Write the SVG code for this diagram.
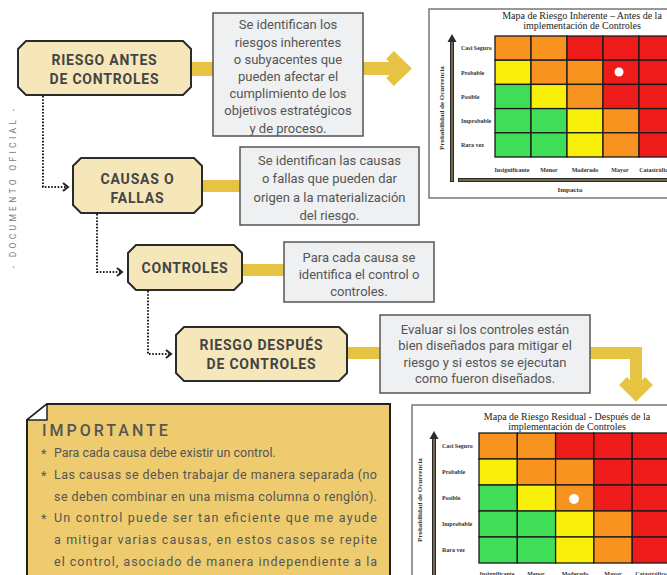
<svg xmlns="http://www.w3.org/2000/svg" width="667" height="575" viewBox="0 0 667 575">
<style>
.node{fill:#f5e7ba;stroke:#2b2b2b;stroke-width:2}
.nt{font-family:Roboto,"Liberation Sans",sans-serif;font-weight:700;font-size:14px;fill:#444;letter-spacing:0.8px;text-anchor:middle}
.box{fill:#eef0f2;stroke:#555;stroke-width:1.5}
.bt{font-family:Roboto,"Liberation Sans",sans-serif;font-size:13px;fill:#555;text-anchor:middle}
.bar{fill:#e6c343}
.ybar{fill:none;stroke:#e6c343;stroke-linecap:butt}
.dot{fill:none;stroke:#222;stroke-width:2;stroke-dasharray:1.6 1.6}
.chev{fill:none;stroke:#222;stroke-width:2}
.frame{fill:#fff;stroke:#777;stroke-width:1.5}
.mt{font-family:"Liberation Serif",serif;font-size:10px;fill:#222;text-anchor:middle}
.lb{font-family:"Liberation Serif",serif;font-size:6px;font-weight:700;fill:#333}
.lbc{font-family:"Liberation Serif",serif;font-size:6px;font-weight:700;fill:#333;text-anchor:middle}
.ax{font-family:"Liberation Serif",serif;font-size:7px;font-weight:700;fill:#333;text-anchor:middle}
.O{fill:#f7931e}.R{fill:#ee1b1b}.Y{fill:#f8f00a}.G{fill:#3fdd58}
.grid rect{stroke:#1a1a1a;stroke-width:1.3}
.axo{stroke:#2a2a2a;stroke-width:4;fill:none}
.axi{stroke:#8b7a55;stroke-width:1.6;fill:none}
.imp{font-family:Roboto,"Liberation Sans",sans-serif;font-size:12.5px;fill:#555}
</style>

<!-- side text -->
<text transform="translate(16,187) rotate(-90)" font-family="Roboto,'Liberation Sans',sans-serif" font-size="8.5" fill="#7a7a7a" text-anchor="middle" letter-spacing="3.3">- DOCUMENTO OFICIAL -</text>

<!-- connectors -->
<g id="connectors">
  <rect class="bar" x="191" y="62" width="22" height="14"/>
  <rect class="bar" x="202" y="180" width="38" height="12"/>
  <rect class="bar" x="242" y="264" width="42" height="12"/>
  <rect class="bar" x="347" y="347" width="33" height="12"/>
  <!-- big arrow right -->
  <rect class="bar" x="363" y="62" width="36" height="13"/>
  <polyline class="ybar" points="390,55 404,68.5 390,82" stroke-width="11" stroke-linejoin="miter"/>
  <!-- big arrow down -->
  <path class="ybar" d="M590,353 H636 V388" stroke-width="12"/>
  <polyline class="ybar" points="623,381 636,394 649,381" stroke-width="11"/>
  <!-- dotted connectors -->
  <path class="dot" d="M43,96 V187 H67"/>
  <polyline class="chev" points="63,183 68,187 63,191"/>
  <path class="dot" d="M97,214 V272 H121"/>
  <polyline class="chev" points="117,268 122,272 117,276"/>
  <path class="dot" d="M148,291 V354 H170"/>
  <polyline class="chev" points="166,350 171,354 166,358"/>
</g>

<!-- nodes -->
<g id="n1">
  <path class="node" d="M26,41 H183 L191,49 V87 L183,95 H26 L18,87 V49 Z"/>
  <text class="nt" x="104.5" y="65">RIESGO ANTES</text>
  <text class="nt" x="104.5" y="84">DE CONTROLES</text>
</g>
<g id="b1">
  <rect class="box" x="213" y="13" width="150" height="123"/>
  <text class="bt" x="288" y="29">Se identifican los</text>
  <text class="bt" x="288" y="46.5">riesgos inherentes</text>
  <text class="bt" x="288" y="63.5">o subyacentes que</text>
  <text class="bt" x="288" y="81">pueden afectar el</text>
  <text class="bt" x="288" y="98">cumplimiento de los</text>
  <text class="bt" x="288" y="115">objetivos estratégicos</text>
  <text class="bt" x="288" y="132.5">y de proceso.</text>
</g>

<g id="n2">
  <path class="node" d="M81,158 H194 L202,166 V205 L194,213 H81 L73,205 V166 Z"/>
  <text class="nt" x="137.5" y="184">CAUSAS O</text>
  <text class="nt" x="137.5" y="203">FALLAS</text>
</g>
<g id="b2">
  <rect class="box" x="240" y="147" width="179" height="78"/>
  <text class="bt" x="329.5" y="164.5">Se identifican las causas</text>
  <text class="bt" x="329.5" y="183">o fallas que pueden dar</text>
  <text class="bt" x="329.5" y="202">origen a la materialización</text>
  <text class="bt" x="329.5" y="220">del riesgo.</text>
</g>

<g id="n3">
  <path class="node" d="M136,245 H234 L242,253 V282 L234,290 H136 L128,282 V253 Z"/>
  <text class="nt" x="185" y="273">CONTROLES</text>
</g>
<g id="b3">
  <rect class="box" x="284" y="242" width="150" height="60"/>
  <text class="bt" x="359" y="262">Para cada causa se</text>
  <text class="bt" x="359" y="279">identifica el control o</text>
  <text class="bt" x="359" y="296">controles.</text>
</g>

<g id="n4">
  <path class="node" d="M184,327 H339 L347,335 V373 L339,381 H184 L176,373 V335 Z"/>
  <text class="nt" x="261.5" y="350">RIESGO DESPUÉS</text>
  <text class="nt" x="261.5" y="369">DE CONTROLES</text>
</g>
<g id="b4">
  <rect class="box" x="380" y="315" width="210" height="78"/>
  <text class="bt" x="485" y="333.5">Evaluar si los controles están</text>
  <text class="bt" x="485" y="350">bien diseñados para mitigar el</text>
  <text class="bt" x="485" y="366.5">riesgo y si estos se ejecutan</text>
  <text class="bt" x="485" y="383">como fueron diseñados.</text>
</g>

<!-- map 1 -->
<g id="map1">
  <rect class="frame" x="429" y="9" width="260" height="189"/>
  <text class="mt" x="582" y="18.5">Mapa de Riesgo Inherente – Antes de la</text>
  <text class="mt" x="582" y="28.5">implementación de Controles</text>
  <g class="grid">
    <rect class="O" x="495" y="36" width="36" height="24.2"/><rect class="O" x="531" y="36" width="36" height="24.2"/><rect class="R" x="567" y="36" width="36" height="24.2"/><rect class="R" x="603" y="36" width="36" height="24.2"/><rect class="R" x="639" y="36" width="36" height="24.2"/>
    <rect class="Y" x="495" y="60.2" width="36" height="24.2"/><rect class="O" x="531" y="60.2" width="36" height="24.2"/><rect class="O" x="567" y="60.2" width="36" height="24.2"/><rect class="R" x="603" y="60.2" width="36" height="24.2"/><rect class="R" x="639" y="60.2" width="36" height="24.2"/>
    <rect class="G" x="495" y="84.4" width="36" height="24.2"/><rect class="Y" x="531" y="84.4" width="36" height="24.2"/><rect class="O" x="567" y="84.4" width="36" height="24.2"/><rect class="R" x="603" y="84.4" width="36" height="24.2"/><rect class="R" x="639" y="84.4" width="36" height="24.2"/>
    <rect class="G" x="495" y="108.6" width="36" height="24.2"/><rect class="G" x="531" y="108.6" width="36" height="24.2"/><rect class="Y" x="567" y="108.6" width="36" height="24.2"/><rect class="O" x="603" y="108.6" width="36" height="24.2"/><rect class="R" x="639" y="108.6" width="36" height="24.2"/>
    <rect class="G" x="495" y="132.8" width="36" height="24.2"/><rect class="G" x="531" y="132.8" width="36" height="24.2"/><rect class="Y" x="567" y="132.8" width="36" height="24.2"/><rect class="O" x="603" y="132.8" width="36" height="24.2"/><rect class="R" x="639" y="132.8" width="36" height="24.2"/>
  </g>
  <circle cx="619" cy="72" r="4.5" fill="#fff"/>
  <text class="lb" x="461" y="50">Casi Seguro</text>
  <text class="lb" x="461" y="74.5">Probable</text>
  <text class="lb" x="461" y="98.5">Posible</text>
  <text class="lb" x="461" y="123">Improbable</text>
  <text class="lb" x="461" y="147">Rara vez</text>
  <text class="lbc" x="512" y="172">Insignificante</text>
  <text class="lbc" x="549" y="172">Menor</text>
  <text class="lbc" x="585" y="172">Moderado</text>
  <text class="lbc" x="620" y="172">Mayor</text>
  <text class="lbc" x="655" y="172">Catastrófico</text>
  <line class="axo" x1="452" y1="40" x2="452" y2="182"/>
  <line class="axi" x1="452" y1="40" x2="452" y2="181"/>
  <polygon points="447.5,42 456.5,42 452,34" fill="#2a2a2a"/>
  <line class="axo" x1="458" y1="180" x2="680" y2="180"/>
  <line class="axi" x1="459" y1="180" x2="680" y2="180"/>
  <text class="ax" transform="translate(444,108) rotate(-90)">Probabilidad de Ocurrencia</text>
  <text class="ax" x="570" y="192">Impacto</text>
</g>

<!-- map 2 -->
<g id="map2">
  <rect class="frame" x="412" y="405" width="280" height="190"/>
  <text class="mt" x="567" y="419.5" font-size="10.5">Mapa de Riesgo Residual - Después de la</text>
  <text class="mt" x="567" y="429.5" font-size="10.5">implementación de Controles</text>
  <g class="grid">
    <rect class="O" x="479" y="433" width="38.3" height="26"/><rect class="O" x="517.3" y="433" width="38.3" height="26"/><rect class="R" x="555.6" y="433" width="38.3" height="26"/><rect class="R" x="593.9" y="433" width="38.3" height="26"/><rect class="R" x="632.2" y="433" width="38.3" height="26"/>
    <rect class="Y" x="479" y="459" width="38.3" height="26"/><rect class="O" x="517.3" y="459" width="38.3" height="26"/><rect class="O" x="555.6" y="459" width="38.3" height="26"/><rect class="R" x="593.9" y="459" width="38.3" height="26"/><rect class="R" x="632.2" y="459" width="38.3" height="26"/>
    <rect class="G" x="479" y="485" width="38.3" height="26"/><rect class="Y" x="517.3" y="485" width="38.3" height="26"/><rect class="O" x="555.6" y="485" width="38.3" height="26"/><rect class="R" x="593.9" y="485" width="38.3" height="26"/><rect class="R" x="632.2" y="485" width="38.3" height="26"/>
    <rect class="G" x="479" y="511" width="38.3" height="26"/><rect class="G" x="517.3" y="511" width="38.3" height="26"/><rect class="Y" x="555.6" y="511" width="38.3" height="26"/><rect class="O" x="593.9" y="511" width="38.3" height="26"/><rect class="R" x="632.2" y="511" width="38.3" height="26"/>
    <rect class="G" x="479" y="537" width="38.3" height="26"/><rect class="G" x="517.3" y="537" width="38.3" height="26"/><rect class="Y" x="555.6" y="537" width="38.3" height="26"/><rect class="O" x="593.9" y="537" width="38.3" height="26"/><rect class="R" x="632.2" y="537" width="38.3" height="26"/>
  </g>
  <circle cx="574" cy="499" r="5" fill="#fff"/>
  <text class="lb" x="442" y="448">Casi Seguro</text>
  <text class="lb" x="442" y="474">Probable</text>
  <text class="lb" x="442" y="500">Posible</text>
  <text class="lb" x="442" y="526">Improbable</text>
  <text class="lb" x="442" y="552">Rara vez</text>
  <text class="lbc" x="497" y="576">Insignificante</text>
  <text class="lbc" x="536" y="576">Menor</text>
  <text class="lbc" x="575" y="576">Moderado</text>
  <text class="lbc" x="613" y="576">Mayor</text>
  <text class="lbc" x="651" y="576">Catastrófico</text>
  <line class="axo" x1="434" y1="437" x2="434" y2="580"/>
  <line class="axi" x1="434" y1="437" x2="434" y2="580"/>
  <polygon points="429.5,439 438.5,439 434,431" fill="#2a2a2a"/>
  <text class="ax" transform="translate(422,500) rotate(-90)">Probabilidad de Ocurrencia</text>
</g>

<!-- importante -->
<g id="importante">
  <path d="M47,404 H390 V580 H27 V420 Z" fill="#eecb6e" stroke="#222" stroke-width="2"/>
  <polygon points="27,420 47,420 47,404" fill="#fff" stroke="#222" stroke-width="1.5" stroke-linejoin="round"/>
  <text x="42" y="436" font-family="Roboto,'Liberation Sans',sans-serif" font-size="16" font-weight="500" fill="#555" letter-spacing="3">IMPORTANTE</text>
  <text class="imp" x="41" y="458">*</text>
  <text class="imp" x="54" y="457">Para cada causa debe existir un control.</text>
  <text class="imp" x="41" y="480">*</text>
  <text class="imp" x="54" y="479" textLength="323" lengthAdjust="spacing">Las causas se deben trabajar de manera separada (no</text>
  <text class="imp" x="54" y="501" textLength="323" lengthAdjust="spacing">se deben combinar en una misma columna o renglón).</text>
  <text class="imp" x="41" y="523">*</text>
  <text class="imp" x="54" y="522" textLength="323" lengthAdjust="spacing">Un control puede ser tan eficiente que me ayude</text>
  <text class="imp" x="54" y="544" textLength="323" lengthAdjust="spacing">a mitigar varias causas, en estos casos se repite</text>
  <text class="imp" x="54" y="566" textLength="323" lengthAdjust="spacing">el control, asociado de manera independiente a la</text>
</g>
</svg>
